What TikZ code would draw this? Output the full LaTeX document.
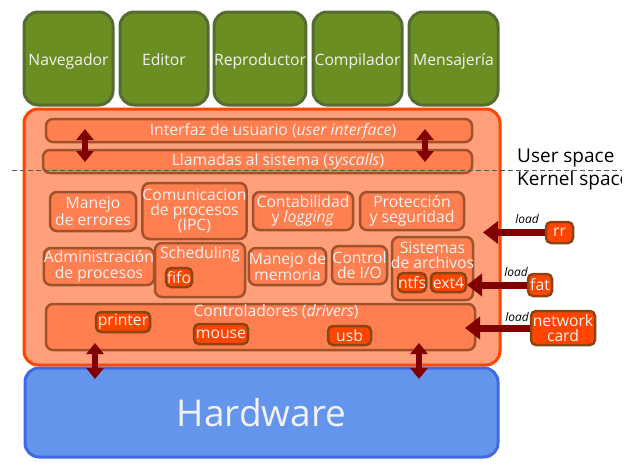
\documentclass[tikz,border=0pt]{standalone}
\usepackage{fontspec}
\setmainfont{Open Sans}
\usetikzlibrary{arrows.meta}
\definecolor{gfill}{HTML}{6B8E23}
\definecolor{gline}{HTML}{556B2F}
\definecolor{ofill}{HTML}{FFA07A}
\definecolor{oline}{HTML}{FF4500}
\definecolor{ifill}{HTML}{FF7F50}
\definecolor{iline}{HTML}{A0522D}
\definecolor{sfill}{HTML}{FF4500}
\definecolor{sline}{HTML}{8B4513}
\definecolor{arr}{HTML}{800000}
\definecolor{hfill}{HTML}{6495ED}
\definecolor{hline}{HTML}{4169E1}
\definecolor{tcol}{HTML}{F2F2F2}
\newcommand{\mybox}[7]{\node[#6, minimum width={(#4-#2)*1pt}, minimum height={(#5-#3)*1pt}] (#1) at ({(#2+#4)/2},{(#3+#5)/2}) {#7};}
\newcommand{\lowtext}[1]{\raisebox{-7pt}[0pt][0pt]{#1}}
\tikzset{
  base/.style={inner sep=0pt, align=center, text=tcol, font=\fontsize{15.7}{15.3}\selectfont},
  gbox/.style={base, draw=gline, fill=gfill, line width=3pt, rounded corners=14pt},
  obox/.style={base, draw=oline, fill=ofill, line width=3pt, rounded corners=14pt},
  ibox/.style={base, draw=iline, fill=ifill, line width=2.5pt, rounded corners=7pt},
  sbox/.style={base, draw=sline, fill=sfill, line width=2.5pt, rounded corners=5pt},
  hbox/.style={base, draw=hline, fill=hfill, line width=3pt, rounded corners=14pt, font=\fontsize{37}{37}\selectfont},
  txt/.style={inner sep=0pt, align=center, text=tcol, font=\fontsize{15.7}{15.3}\selectfont},
  dark/.style={inner sep=0pt, anchor=west, text=black, font=\fontsize{19}{19}\selectfont},
  loadlbl/.style={inner sep=0pt, text=black, font=\fontsize{12}{12}\selectfont\itshape},
  dbl/.style={draw=arr, line width=6pt, {Triangle[width=17pt,length=11pt]}-{Triangle[width=17pt,length=11pt]}},
  loadarr/.style={draw=arr, line width=7pt, -{Triangle[width=22pt,length=15pt]}},
}
\begin{document}
\begin{tikzpicture}[x=1pt,y=-1pt]
\useasboundingbox (0,0) rectangle (634,474);
% applications
\mybox{nav}{24}{12}{113}{105}{gbox}{\lowtext{Navegador}}
\mybox{edi}{120}{12}{208}{105}{gbox}{\lowtext{Editor}}
\mybox{rep}{215}{12}{305}{105}{gbox}{\lowtext{Reproductor}}
\mybox{com}{313}{12}{402}{105}{gbox}{\lowtext{Compilador}}
\mybox{men}{409}{12}{498}{105}{gbox}{\lowtext{Mensajería}}
% kernel
\mybox{kern}{24}{109}{500}{365}{obox}{}
\mybox{iu}{46}{119}{472}{142}{ibox}{}
\node[txt] (iut) at (273,131) {Interfaz de usuario (\textit{user interface})};
\mybox{sys}{43}{150}{472}{173}{ibox}{}
\node[txt] (syst) at (278,161) {Llamadas al sistema (\textit{syscalls})};
\mybox{err}{50}{192}{136}{231}{ibox}{Manejo\\de errores}
\mybox{ipc}{144}{183}{245}{239}{ibox}{Comunicacion\\de procesos\\(IPC)}
\mybox{cont}{253}{192}{353}{230}{ibox}{Contabilidad\\y \textit{logging}}
\mybox{prot}{360}{192}{464}{230}{ibox}{Protección\\y seguridad}
\mybox{adm}{46}{248}{152}{285}{ibox}{Administración\\de procesos}
\mybox{sch}{155}{243}{245}{297}{ibox}{}
\node[txt] (scht) at (200,254) {Scheduling};
\mybox{fifo}{166}{268}{192}{287}{sbox}{fifo}
\mybox{mem}{250}{248}{325}{285}{ibox}{Manejo de\\memoria}
\mybox{io}{332}{246}{387}{284}{ibox}{Control\\de I/O}
\mybox{fs}{392}{237}{473}{300}{ibox}{}
\node[txt] (fst) at (432.5,255) {Sistemas\\de archivos};
\mybox{ntfs}{398}{273}{426}{292}{sbox}{ntfs}
\mybox{ext}{431}{273}{466}{292}{sbox}{ext4}
\mybox{drv}{46}{304}{475}{350}{ibox}{}
\node[txt] (drvt) at (276,312) {Controladores (\textit{drivers})};
\mybox{prn}{96}{312}{150}{332}{sbox}{printer}
\mybox{mou}{194}{324}{248}{344}{sbox}{mouse}
\mybox{usb}{328}{326}{371}{345}{sbox}{usb}
% modules
\mybox{rr}{546}{222}{573}{243}{sbox}{rr}
\mybox{fat}{528}{274}{552}{296}{sbox}{fat}
\mybox{net}{531}{311}{595}{345}{sbox}{network\\card}
\node[loadlbl] (l1) at (527,219) {load};
\node[loadlbl] (l2) at (516,272) {load};
\node[loadlbl] (l3) at (517,317) {load};
% hardware
\mybox{hw}{25}{368}{498}{457}{hbox}{Hardware}
% user/kernel divider
\coordinate (dl) at (12,170);
\coordinate (dr) at (622,170);
\draw[draw=black!65, line width=1pt, dash pattern=on 5pt off 3pt] (dl) -- (dr);
\node[dark] (us) at (517,158) {User space};
\begin{scope}
\clip (500,165) rectangle (621,200);
\node[dark] (ks) at (517,181) {Kernel space};
\end{scope}
% arrows
\coordinate (a1t) at (85,129);
\coordinate (a1b) at (85,162);
\coordinate (a2t) at (425,129);
\coordinate (a2b) at (425,162);
\draw[dbl] (a1t) -- (a1b);
\draw[dbl] (a2t) -- (a2b);
\coordinate (b1t) at (95,343);
\coordinate (b1b) at (95,379);
\coordinate (b2t) at (419,343);
\coordinate (b2b) at (419,379);
\draw[dbl] (b1t) -- (b1b);
\draw[dbl] (b2t) -- (b2b);
\coordinate (rrtip) at (483,232);
\coordinate (fattip) at (467,285);
\coordinate (nettip) at (465,328);
\draw[loadarr] (rr.west) -- (rr.west -| rrtip);
\draw[loadarr] (fat.west) -- (fat.west -| fattip);
\draw[loadarr] (net.west) -- (net.west -| nettip);
\end{tikzpicture}
\end{document}
